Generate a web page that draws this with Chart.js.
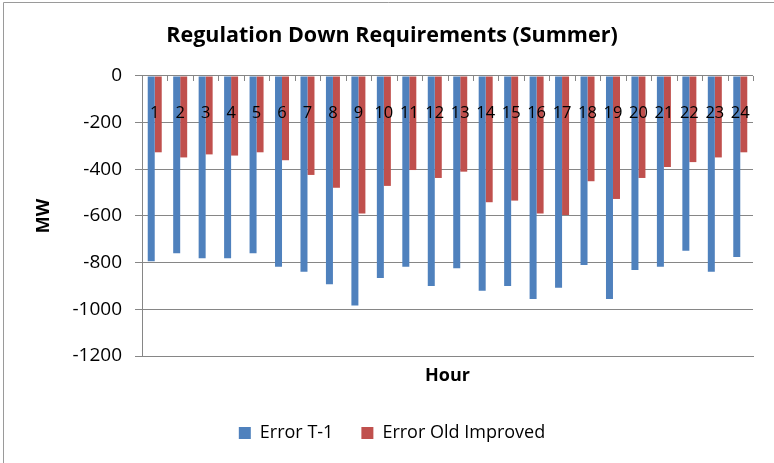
<!DOCTYPE html>
<html>
<head>
<meta charset="utf-8">
<script src="https://cdn.jsdelivr.net/npm/chart.js@4"></script>
<style>
html,body{margin:0;padding:0;background:#fff;}
#wrap{width:774px;height:463px;position:relative;}
canvas{display:block;}
</style>
</head>
<body>
<div id="wrap"><canvas id="c" width="774" height="463"></canvas></div>
<script>
const chartTitle = 'Regulation Down Requirements (Summer)';
const xAxisTitle = 'Hour';
const yAxisTitle = 'MW';
const hours = ['1','2','3','4','5','6','7','8','9','10','11','12','13','14','15','16','17','18','19','20','21','22','23','24'];
const errorT1 = [-794,-760,-781,-781,-760,-817,-839,-893,-984,-866,-817,-900,-824,-920,-900,-956,-907,-810,-956,-831,-817,-749,-839,-776];
const errorOldImproved = [-327,-349,-336,-341,-327,-361,-424,-479,-589,-471,-403,-437,-410,-541,-534,-589,-596,-451,-527,-437,-390,-369,-349,-327];
const seriesNames = ['Error T-1','Error Old Improved'];
const yMin = -1200, yMax = 0, yStep = 200;

const FONT = '"Open Sans", Lato, "Liberation Sans", sans-serif';
const GRID = '#868686';

const frameAndLabels = {
  id: 'frameAndLabels',
  beforeDraw(chart) {
    const ctx = chart.ctx;
    ctx.save();
    ctx.fillStyle = '#fff';
    ctx.fillRect(0, 0, chart.width, chart.height);
    ctx.strokeStyle = '#9a9a9a';
    ctx.lineWidth = 1;
    ctx.beginPath();
    ctx.moveTo(3.5, chart.height);
    ctx.lineTo(3.5, 2.5);
    ctx.lineTo(chart.width, 2.5);
    ctx.stroke();
    ctx.restore();
  },
  afterDatasetsDraw(chart) {
    const {ctx, scales: {x, y}} = chart;
    const y0 = y.getPixelForValue(0);
    ctx.save();
    ctx.strokeStyle = GRID;
    ctx.lineWidth = 1;
    for (let i = 0; i <= hours.length; i++) {
      const px = Math.round(x.getPixelForValue(i - 0.5)) + 0.5;
      ctx.beginPath();
      ctx.moveTo(px, y0);
      ctx.lineTo(px, y0 + 5);
      ctx.stroke();
    }
    ctx.fillStyle = '#000';
    ctx.font = '16.5px ' + FONT;
    ctx.textAlign = 'center';
    ctx.textBaseline = 'middle';
    hours.forEach((h, i) => ctx.fillText(h, x.getPixelForValue(i), y0 + 37));
    ctx.restore();
  }
};

new Chart(document.getElementById('c'), {
  type: 'bar',
  data: {
    labels: hours,
    datasets: [
      { label: seriesNames[0], data: errorT1, backgroundColor: '#4F81BD', borderWidth: 0 },
      { label: seriesNames[1], data: errorOldImproved, backgroundColor: '#C0504D', borderWidth: 0 }
    ]
  },
  options: {
    responsive: false,
    animation: false,
    devicePixelRatio: 1,
    categoryPercentage: 0.55,
    barPercentage: 1.0,
    layout: { padding: { left: 31, right: 21, top: 0, bottom: 11 } },
    plugins: {
      title: {
        display: true,
        text: chartTitle,
        color: '#000',
        font: { family: FONT, size: 21.5, weight: 'bold', lineHeight: 1.116279 },
        padding: { top: 24, bottom: 28 }
      },
      legend: {
        position: 'bottom',
        labels: {
          color: '#000',
          font: { family: FONT, size: 18 },
          boxWidth: 12,
          boxHeight: 12,
          padding: 28
        }
      },
      tooltip: { enabled: false }
    },
    scales: {
      x: {
        grid: { display: false },
        border: { display: true, color: GRID, width: 1 },
        ticks: { display: false },
        title: {
          display: true,
          text: xAxisTitle,
          color: '#000',
          font: { family: FONT, size: 18, weight: 'bold', lineHeight: 1.2 },
          padding: { top: 0, bottom: 9 }
        },
        afterFit(scale) { scale.height = 40; }
      },
      y: {
        min: yMin,
        max: yMax,
        grid: { color: GRID, lineWidth: 1, drawTicks: true, tickLength: 7 },
        border: { display: true, color: GRID, width: 1 },
        ticks: {
          stepSize: yStep,
          color: '#000',
          padding: 13,
          font: { family: FONT, size: 19 },
          callback: v => String(v)
        },
        title: {
          display: true,
          text: yAxisTitle,
          color: '#000',
          font: { family: FONT, size: 18, weight: 'bold', lineHeight: 1.2 },
          padding: { top: 2, bottom: 0 }
        },
        afterFit(scale) { scale.width = 111; }
      }
    }
  },
  plugins: [frameAndLabels]
});
</script>
</body>
</html>
